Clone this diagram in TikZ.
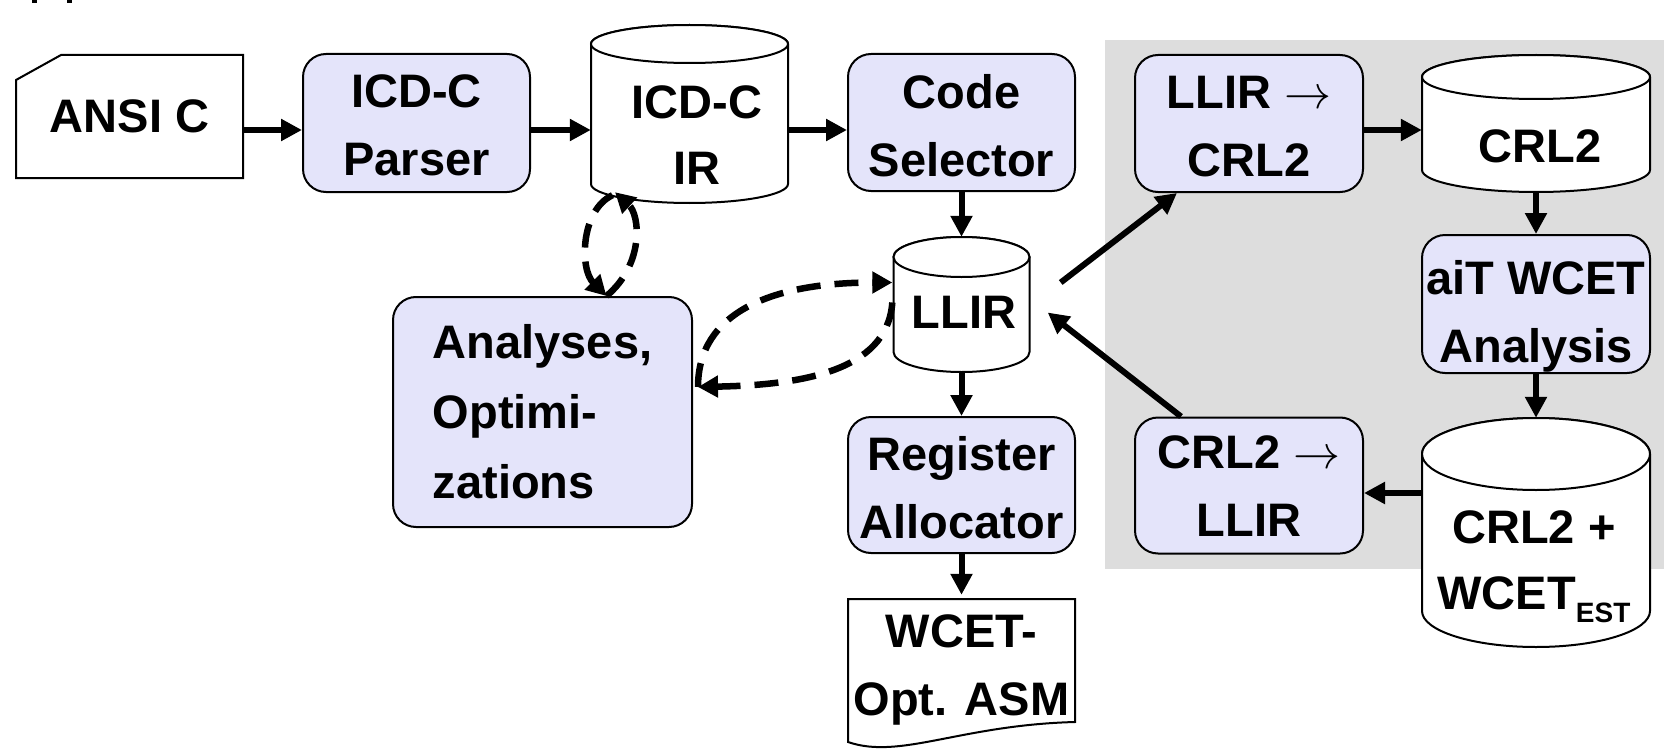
\documentclass[tikz,border=0pt]{standalone}
\usepackage{fontspec}
\usepackage{graphicx}
\setmainfont{Liberation Sans}
\usetikzlibrary{arrows.meta,calc}
\definecolor{boxfill}{RGB}{228,228,250}
\definecolor{bggray}{RGB}{221,221,221}
\newcommand\cylshape[5]{%
  \filldraw[outline] ({#1-#4},{#2+#5}) -- ({#1-#4},{#3-#5})
    arc[start angle=180,end angle=360,x radius=#4pt,y radius=#5pt]
    -- ({#1+#4},{#2+#5})
    arc[start angle=0,end angle=180,x radius=#4pt,y radius=#5pt] -- cycle;
  \draw[outline] (#1,{#2+#5}) ellipse[x radius=#4pt,y radius=#5pt];
}
% text block shifted down by #1 without changing its bounds
\newcommand\lines[2]{\raisebox{-#1}[\height][\depth]{\begin{tabular}{@{}c@{}}#2\end{tabular}}}
\newcommand\bigarrow{\scalebox{4.7}{\normalsize$\rightarrow$}}
\begin{document}
\begin{tikzpicture}[x=1pt,y=-1pt,
  txt/.style={font=\fontsize{47}{68}\selectfont\bfseries, align=center, inner sep=0pt},
  proc/.style={txt, draw=black, line width=2pt, fill=boxfill, rounded corners=23pt},
  anchorbox/.style={draw=none, fill=none, inner sep=0pt},
  arr/.style={line width=6pt, -{Triangle[length=21pt,width=21pt]}},
  darr/.style={line width=6.5pt, dash pattern=on 24pt off 14pt, -{Triangle[length=20pt,width=21pt]}},
  outline/.style={draw=black, line width=2pt, fill=white}]
\useasboundingbox (0,0) rectangle (1664,749);
\clip (0,0) rectangle (1664,749);
\fill[white] (0,0) rectangle (1664,749);
% cropped marks at top left
\fill (32,0) rectangle (37,3);
\fill (67,0) rectangle (72,3);
% gray background
\fill[bggray] (1105,40) rectangle (1664,569);

% ANSI C card
\draw[outline] (61,55) -- (243,55) -- (243,178) -- (16,178) -- (16,80) -- cycle;
\node[txt, minimum width=227pt, minimum height=123pt] (ansi) at (129.5,116.5) {ANSI C};

% process boxes
\node[proc, minimum width=227pt, minimum height=138pt] (parser) at (416.5,123) {\lines{5pt}{ICD-C\\Parser}};
\node[proc, minimum width=227pt, minimum height=137pt] (cs) at (961.5,122.5) {\lines{6pt}{Code\\Selector}};
\node[proc, minimum width=228pt, minimum height=137pt] (l2c) at (1249,123.5) {\lines{5pt}{LLIR \bigarrow\\CRL2}};
\node[proc, minimum width=228pt, minimum height=138pt] (ait) at (1536,304) {\lines{11pt}{aiT WCET\\Analysis}};
\node[proc, minimum width=228pt, minimum height=135pt] (c2l) at (1249,485.5) {\lines{3pt}{CRL2 \bigarrow\\LLIR}};
\node[proc, minimum width=227pt, minimum height=136pt] (reg) at (961.5,485) {\lines{6pt}{Register\\Allocator}};
\node[proc, minimum width=299pt, minimum height=230pt, align=left,
      font=\fontsize{47}{70}\selectfont\bfseries] (ana) at (542.5,412) {Analyses,\\Optimi-\\zations};

% cylinders
\cylshape{689.5}{25}{203}{98.5}{19}
\node[anchorbox, minimum width=197pt, minimum height=178pt] (ir) at (689.5,114) {};
\node[txt, font=\fontsize{47}{66}\selectfont\bfseries] (irtext) at (697,135) {ICD-C\\IR};

\cylshape{1536}{55}{192}{114}{22}
\node[anchorbox, minimum width=228pt, minimum height=137pt] (crl) at (1536,123.5) {};
\node[txt] (crltext) at (1540,146) {CRL2};

\cylshape{1536}{418}{647}{114}{36}
\node[anchorbox, minimum width=228pt, minimum height=229pt] (wcet) at (1536,532.5) {};
\node[txt, font=\fontsize{47}{66}\selectfont\bfseries] (wcettext) at (1534,567) {CRL2 +\\WCET\raisebox{-13pt}{\fontsize{28}{28}\selectfont EST}};

\cylshape{961.5}{237}{372}{68}{20}
\node[anchorbox, minimum width=136pt, minimum height=135pt] (llir) at (961.5,304.5) {};
\node[txt] (llirtext) at (964,312) {LLIR};

% document
\draw[outline] (848,599) -- (1075,599) -- (1075,722) .. controls (960,725) and (900,760) .. (848,742) -- cycle;
\node[txt, minimum width=227pt, minimum height=128pt] (doc) at (961.5,663) {\lines{5pt}{WCET-\\Opt. ASM}};

% solid arrows
\coordinate (row) at (0,130);
\coordinate (row2) at (0,493);
\draw[arr] (ansi.east |- row) -- (parser.west |- row);
\draw[arr] (parser.east |- row) -- (ir.west |- row);
\draw[arr] (ir.east |- row) -- (cs.west |- row);
\draw[arr] (cs.south) -- (llir.north);
\draw[arr] (llir.south) -- (reg.north);
\draw[arr] (reg.south) -- (doc.north);
\draw[arr] ($(llir.east)+(31,-22)$) -- ($(l2c.south west)+(43,0)$);
\draw[arr] ($(c2l.north west)+(47,0)$) -- ($(llir.east)+(18,8)$);
\draw[arr] (l2c.east |- row) -- (crl.west |- row);
\draw[arr] (crl.south) -- (ait.north);
\draw[arr] (ait.south) -- (wcet.north);
\draw[arr] (wcet.west |- row2) -- (c2l.east |- row2);

% dashed loops
\draw[darr] ($(ana.east)+(5,-25)$) .. controls +(0,-75) and +(-120,0) .. ($(llir.west)+(-1,-22)$);
\draw[darr] ($(llir.west)+(-1,-2)$) .. controls +(-5,70) and +(100,-2) .. ($(ana.east)+(5,-25)$);
\draw[darr] ($(ir.south)+(-77,-8)$) .. controls +(-32,15) and +(-27,-27) .. ($(ana.north)+(64,0)$);
\draw[darr] ($(ana.north)+(64,0)$) .. controls +(38,-32) and +(25,23) .. ($(ir.south)+(-74.5,-11)$);
\end{tikzpicture}
\end{document}
